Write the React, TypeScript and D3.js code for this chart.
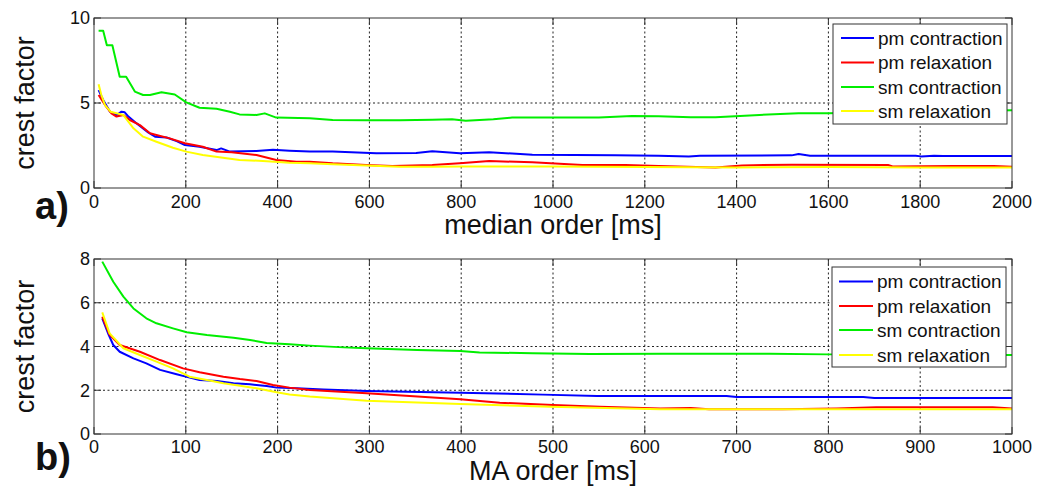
import React from "react";
import * as d3 from "d3";

// ---------- Panel a) median order ----------
const aXTicks = [0, 200, 400, 600, 800, 1000, 1200, 1400, 1600, 1800, 2000];
const aYTicks = [0, 5, 10];

const aPmConX = [10, 20, 35, 49, 60, 67, 75, 93, 118, 133, 158, 180, 198, 230, 267, 277, 296, 354, 390, 426, 470, 520, 615, 702, 737, 797, 861, 955, 1136, 1230, 1296, 1320, 1520, 1535, 1560, 1790, 1802, 1830, 1850, 2000];
const aPmConY = [5.76, 5.18, 4.49, 4.29, 4.49, 4.45, 4.2, 3.8, 3.27, 3.02, 2.97, 2.76, 2.53, 2.43, 2.23, 2.33, 2.14, 2.18, 2.25, 2.19, 2.14, 2.14, 2.04, 2.06, 2.16, 2.04, 2.1, 1.96, 1.92, 1.9, 1.86, 1.9, 1.92, 2.0, 1.9, 1.9, 1.86, 1.9, 1.88, 1.88];

const aPmRelX = [10, 24, 38, 49, 64, 78, 100, 122, 136, 165, 198, 237, 267, 300, 354, 397, 441, 470, 520, 593, 650, 737, 797, 861, 955, 1064, 1158, 1230, 1354, 1412, 1520, 1730, 1740, 1875, 1960, 2000];
const aPmRelY = [5.47, 4.88, 4.39, 4.2, 4.29, 4.0, 3.7, 3.22, 3.12, 2.92, 2.63, 2.43, 2.14, 2.1, 1.94, 1.65, 1.55, 1.55, 1.45, 1.35, 1.29, 1.35, 1.45, 1.59, 1.51, 1.35, 1.35, 1.29, 1.21, 1.33, 1.37, 1.35, 1.27, 1.29, 1.29, 1.25];

const aSmConX = [10, 20, 28, 40, 56, 70, 89, 107, 122, 147, 176, 201, 230, 267, 296, 317, 354, 372, 397, 470, 520, 593, 666, 737, 780, 810, 870, 911, 1000, 1100, 1172, 1230, 1300, 1354, 1450, 1535, 1600, 1800, 2000];
const aSmConY = [9.25, 9.25, 8.4, 8.4, 6.55, 6.55, 5.67, 5.47, 5.47, 5.63, 5.5, 5.04, 4.72, 4.66, 4.49, 4.33, 4.3, 4.39, 4.14, 4.1, 4.0, 3.98, 3.98, 4.02, 4.05, 3.96, 4.05, 4.14, 4.14, 4.14, 4.24, 4.22, 4.16, 4.16, 4.3, 4.39, 4.4, 4.5, 4.58];

const aSmRelX = [10, 16, 24, 36, 64, 86, 107, 136, 172, 201, 237, 281, 317, 368, 426, 470, 520, 593, 666, 737, 800, 900, 1000, 1100, 1200, 1400, 1600, 1800, 2000];
const aSmRelY = [6.1, 5.47, 4.88, 4.49, 4.29, 3.51, 3.02, 2.72, 2.37, 2.14, 1.94, 1.78, 1.65, 1.59, 1.49, 1.45, 1.4, 1.33, 1.25, 1.25, 1.27, 1.27, 1.27, 1.25, 1.23, 1.21, 1.23, 1.21, 1.21];

// ---------- Panel b) MA order ----------
const bXTicks = [0, 100, 200, 300, 400, 500, 600, 700, 800, 900, 1000];
const bYTicks = [0, 2, 4, 6, 8];

const bPmConX = [9, 16, 21, 28, 43, 57, 72, 90, 101, 115, 134, 152, 170, 188, 199, 221, 250, 297, 399, 489, 548, 689, 700, 838, 850, 1000];
const bPmConY = [5.29, 4.53, 4.07, 3.76, 3.46, 3.23, 2.93, 2.73, 2.61, 2.47, 2.42, 2.32, 2.27, 2.19, 2.12, 2.09, 2.03, 1.97, 1.89, 1.8, 1.74, 1.74, 1.69, 1.69, 1.65, 1.65];

const bPmRelX = [9, 17, 28, 50, 72, 97, 115, 141, 159, 177, 195, 213, 235, 297, 399, 442, 500, 551, 617, 650, 670, 750, 809, 852, 979, 1000];
const bPmRelY = [5.36, 4.53, 4.07, 3.76, 3.38, 3.0, 2.82, 2.62, 2.51, 2.42, 2.24, 2.12, 2.01, 1.86, 1.59, 1.43, 1.33, 1.25, 1.17, 1.19, 1.13, 1.13, 1.17, 1.22, 1.22, 1.17];

const bSmConX = [9, 21, 32, 43, 57, 68, 86, 101, 123, 152, 170, 188, 213, 235, 272, 297, 352, 399, 420, 478, 540, 620, 736, 800, 900, 1000];
const bSmConY = [7.88, 6.96, 6.28, 5.74, 5.29, 5.06, 4.83, 4.65, 4.53, 4.4, 4.3, 4.16, 4.1, 4.04, 3.96, 3.92, 3.84, 3.79, 3.73, 3.69, 3.66, 3.67, 3.67, 3.64, 3.64, 3.61];

const bSmRelX = [9, 17, 32, 50, 68, 86, 104, 123, 141, 159, 177, 199, 213, 235, 297, 399, 497, 617, 700, 1000];
const bSmRelY = [5.56, 4.6, 3.92, 3.61, 3.31, 3.0, 2.62, 2.47, 2.32, 2.21, 2.09, 1.91, 1.81, 1.71, 1.52, 1.37, 1.25, 1.13, 1.13, 1.13];

const seriesNames = ["pm contraction", "pm relaxation", "sm contraction", "sm relaxation"];
const seriesColors = ["#0000ff", "#ff0000", "#00ee00", "#ffff00"];

const FONT = "'Liberation Sans', Arial, sans-serif";
const AXIS_COLOR = "#333";

type PanelProps = {
  id: string;
  left: number; right: number; top: number; bottom: number;
  xMax: number; yMax: number;
  xTicks: number[]; yTicks: number[];
  series: { x: number[]; y: number[] }[];
  xLabel: string; tag: string;
  xLabelY: number; tagY: number; tickLabelDy: number;
  legend: { left: number; top: number; width: number; height: number; rows: number[]; lineX0: number; lineX1: number; textX: number };
};

function Panel(p: PanelProps) {
  const x = d3.scaleLinear().domain([0, p.xMax]).range([p.left, p.right]);
  const y = d3.scaleLinear().domain([0, p.yMax]).range([p.bottom, p.top]);
  const tickLen = 7;
  const cy = (p.top + p.bottom) / 2;
  return (
    <g>
      <defs>
        <clipPath id={p.id}>
          <rect x={p.left} y={p.top} width={p.right - p.left} height={p.bottom - p.top} />
        </clipPath>
      </defs>
      {p.xTicks.slice(1, -1).map((t) => (
        <line key={"gx" + t} x1={x(t)} x2={x(t)} y1={p.top} y2={p.bottom} stroke="#222" strokeWidth={1} strokeDasharray="2,2.5" />
      ))}
      {p.yTicks.slice(1, -1).map((t) => (
        <line key={"gy" + t} x1={p.left} x2={p.right} y1={y(t)} y2={y(t)} stroke="#222" strokeWidth={1} strokeDasharray="2,2.5" />
      ))}
      {p.xTicks.map((t) => (
        <g key={"tx" + t}>
          <line x1={x(t)} x2={x(t)} y1={p.bottom} y2={p.bottom - tickLen} stroke={AXIS_COLOR} />
          <line x1={x(t)} x2={x(t)} y1={p.top} y2={p.top + tickLen} stroke={AXIS_COLOR} />
          <text x={x(t)} y={p.bottom + p.tickLabelDy} textAnchor="middle" fontSize={18} fontFamily={FONT} fill="#111">{t}</text>
        </g>
      ))}
      {p.yTicks.map((t) => (
        <g key={"ty" + t}>
          <line x1={p.left} x2={p.left + tickLen} y1={y(t)} y2={y(t)} stroke={AXIS_COLOR} />
          <line x1={p.right} x2={p.right - tickLen} y1={y(t)} y2={y(t)} stroke={AXIS_COLOR} />
          <text x={p.left - 4} y={y(t)} dy="0.36em" textAnchor="end" fontSize={18} fontFamily={FONT} fill="#111">{t}</text>
        </g>
      ))}
      <g clipPath={`url(#${p.id})`}>
        {p.series.map((s, i) => {
          const pts: [number, number][] = s.x.map((xv, j) => [xv, s.y[j]]);
          const path = d3.line<[number, number]>().x((d) => x(d[0])).y((d) => y(d[1]))(pts) || "";
          return <path key={i} d={path} fill="none" stroke={seriesColors[i]} strokeWidth={2} strokeLinejoin="round" />;
        })}
      </g>
      <rect x={p.left} y={p.top} width={p.right - p.left} height={p.bottom - p.top} fill="none" stroke={AXIS_COLOR} strokeWidth={1} />
      <rect x={p.legend.left} y={p.legend.top} width={p.legend.width} height={p.legend.height} fill="#fff" stroke={AXIS_COLOR} strokeWidth={1} />
      {seriesNames.map((n, i) => (
        <g key={n}>
          <line x1={p.legend.lineX0} x2={p.legend.lineX1} y1={p.legend.rows[i]} y2={p.legend.rows[i]} stroke={seriesColors[i]} strokeWidth={2} />
          <text x={p.legend.textX} y={p.legend.rows[i]} dy="0.35em" fontSize={19} fontFamily={FONT} fill="#111">{n}</text>
        </g>
      ))}
      <text transform={`translate(34,${cy}) rotate(-90)`} textAnchor="middle" fontSize={27} fontFamily={FONT} fill="#111">crest factor</text>
      <text x={(p.left + p.right) / 2} y={p.xLabelY} textAnchor="middle" fontSize={27} fontFamily={FONT} fill="#111">{p.xLabel}</text>
      <text x={35} y={p.tagY} fontSize={38} fontWeight="bold" fontFamily={FONT} fill="#111">{p.tag}</text>
    </g>
  );
}

export default function App() {
  return (
    <svg width={1039} height={489} style={{ position: "absolute", left: 0, top: 0, background: "#fff" }}>
      <rect x={0} y={0} width={1039} height={489} fill="#fff" />
      <Panel
        id="clipA" left={94} right={1012} top={18} bottom={188} xMax={2000} yMax={10}
        xTicks={aXTicks} yTicks={aYTicks}
        series={[{ x: aPmConX, y: aPmConY }, { x: aPmRelX, y: aPmRelY }, { x: aSmConX, y: aSmConY }, { x: aSmRelX, y: aSmRelY }]}
        xLabel="median order [ms]" tag="a)" xLabelY={234} tagY={219} tickLabelDy={20}
        legend={{ left: 833, top: 24, width: 174, height: 100, rows: [38, 62.5, 87, 111], lineX0: 841, lineX1: 874, textX: 878 }}
      />
      <Panel
        id="clipB" left={94} right={1012} top={259} bottom={434} xMax={1000} yMax={8}
        xTicks={bXTicks} yTicks={bYTicks}
        series={[{ x: bPmConX, y: bPmConY }, { x: bPmRelX, y: bPmRelY }, { x: bSmConX, y: bSmConY }, { x: bSmRelX, y: bSmRelY }]}
        xLabel="MA order [ms]" tag="b)" xLabelY={480} tagY={470} tickLabelDy={19}
        legend={{ left: 832, top: 267, width: 174, height: 100, rows: [281.5, 306, 330, 355], lineX0: 839, lineX1: 873, textX: 877 }}
      />
    </svg>
  );
}
